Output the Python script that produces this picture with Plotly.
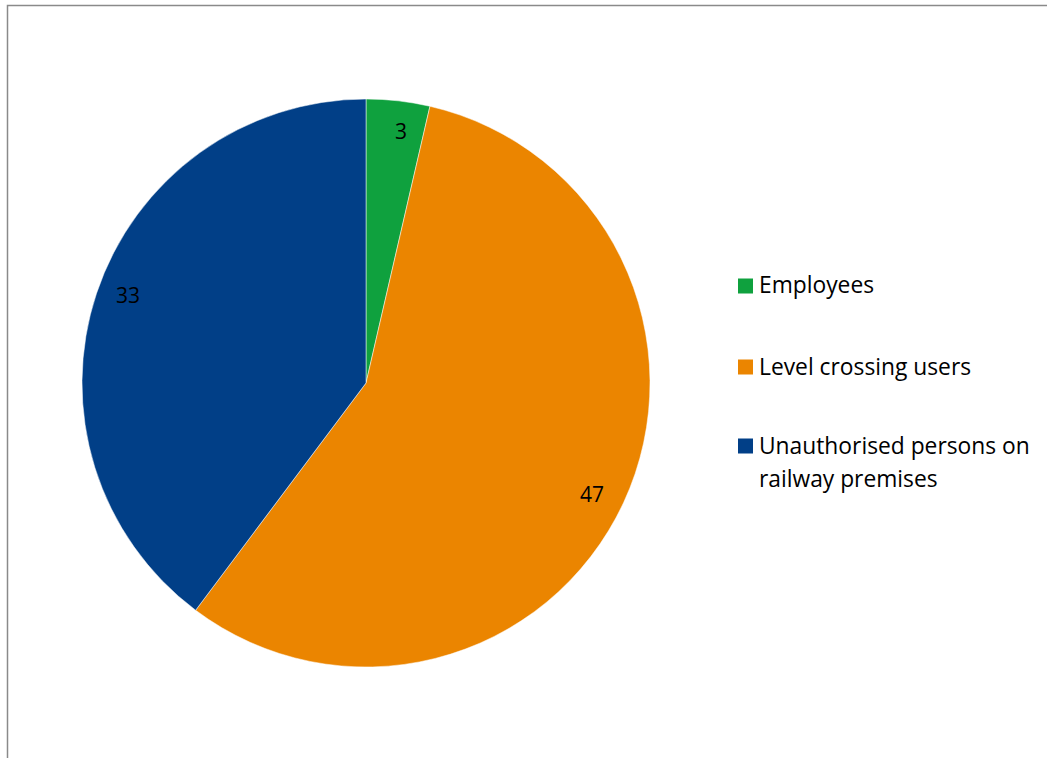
import math
import plotly.graph_objects as go

categories = ["Employees", "Level crossing users", "Unauthorised persons on<br>railway premises"]
values = [3, 47, 33]
colors = ["#0FA13E", "#EB8500", "#013F87"]

W, H = 1047, 758
cx, cy, r = 366, 383, 284

def px(x):
    return x / W

def py(y):
    return 1 - y / H

fig = go.Figure(go.Pie(
    labels=categories,
    values=values,
    sort=False,
    direction="clockwise",
    rotation=0,
    marker=dict(colors=colors, line=dict(color="#FFFFFF", width=0.5)),
    textinfo="none",
    hoverinfo="label+value",
    showlegend=False,
    domain=dict(x=[px(cx - r), px(cx + r)], y=[py(cy + r), py(cy - r)]),
))

font_family = "'Open Sans', Lato, sans-serif"
annotations = []
total = sum(values)
cum = 0
for v in values:
    mid = (cum + v / 2) / total
    cum += v
    th = 2 * math.pi * mid + math.radians(1.5)
    lx = cx + 0.89 * r * math.sin(th)
    ly = cy - 0.89 * r * math.cos(th) - 2
    annotations.append(dict(x=px(lx), y=py(ly), xref="paper", yref="paper",
                            text=str(v), showarrow=False,
                            font=dict(family=font_family, size=21, color="#000000"),
                            xanchor="center", yanchor="middle"))

shapes = []
legend_y = [286, 367, 446]
line_gap = 33
for cat, col, ly in zip(categories, colors, legend_y):
    shapes.append(dict(type="rect", xref="paper", yref="paper",
                       x0=px(738), x1=px(753), y0=py(ly + 7.5), y1=py(ly - 7.5),
                       fillcolor=col, line=dict(width=0)))
    for i, line in enumerate(cat.split("<br>")):
        annotations.append(dict(x=px(757), y=py(ly + i * line_gap - 1), xref="paper", yref="paper",
                                text=line, showarrow=False, align="left",
                                xanchor="left", yanchor="middle",
                                font=dict(family=font_family, size=22.8, color="#000000")))

shapes.append(dict(type="rect", xref="paper", yref="paper",
                   x0=px(7.5), x1=1.05, y0=-0.05, y1=py(5.5),
                   line=dict(color="#8A8A8A", width=1.5), fillcolor="rgba(0,0,0,0)"))

fig.update_layout(
    width=W, height=H,
    margin=dict(l=0, r=0, t=0, b=0),
    paper_bgcolor="#FFFFFF",
    plot_bgcolor="#FFFFFF",
    annotations=annotations,
    shapes=shapes,
)

fig.write_html("out.html")
